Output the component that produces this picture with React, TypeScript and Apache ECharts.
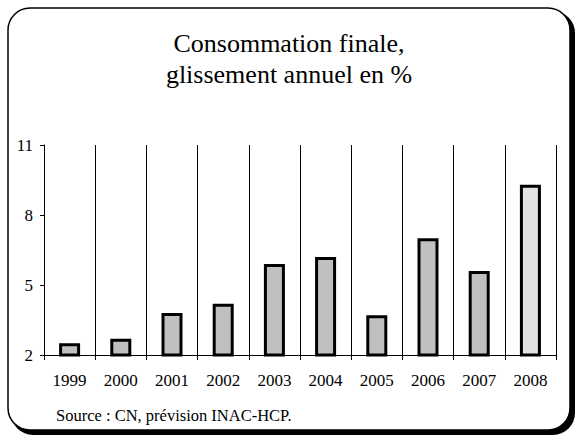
import React, { useEffect, useRef } from "react";
import * as echarts from "echarts";

const years = ["1999", "2000", "2001", "2002", "2003", "2004", "2005", "2006", "2007", "2008"];
const values = [2.5, 2.7, 3.8, 4.2, 5.9, 6.2, 3.7, 7.0, 5.6, 9.3];
const forecastYears = ["2008"];
const titleLines = ["Consommation finale,", "glissement annuel en %"];
const sourceText = "Source : CN, prévision INAC-HCP.";

const FONT = "Liberation Serif";

export default function App() {
  const ref = useRef<HTMLDivElement>(null);
  useEffect(() => {
    if (!ref.current) return;
    const chart = echarts.init(ref.current, null, { renderer: "svg" });
    chart.setOption({
      animation: false,
      backgroundColor: "#ffffff",
      graphic: [
        {
          type: "rect",
          z: -10,
          shape: { x: 11, y: 11, width: 564, height: 424, r: 22 },
          style: { fill: "#000" },
          silent: true,
        },
        {
          type: "rect",
          z: -9,
          shape: { x: 8, y: 8, width: 562, height: 422, r: 22 },
          style: { fill: "#fff", stroke: "#000", lineWidth: 1.5 },
          silent: true,
        },
        ...titleLines.map((t, i) => ({
          type: "text",
          x: 289,
          y: 43 + i * 31,
          style: {
            text: t,
            fontFamily: FONT,
            fontSize: 26,
            fill: "#000",
            align: "center",
            verticalAlign: "middle",
          },
        })),
        {
          type: "text",
          x: 56,
          y: 415,
          style: {
            text: sourceText,
            fontFamily: FONT,
            fontSize: 16.5,
            fill: "#000",
            verticalAlign: "middle",
          },
        },
      ],
      grid: { left: 44, right: 22, top: 145, bottom: 81 },
      xAxis: {
        type: "category",
        data: years,
        boundaryGap: true,
        axisLine: { show: true, lineStyle: { color: "#000", width: 1 } },
        axisTick: { show: true, interval: 0, length: 5, lineStyle: { color: "#000" } },
        axisLabel: { interval: 0, margin: 17, fontFamily: FONT, fontSize: 17, color: "#000" },
        splitLine: { show: true, interval: 0, lineStyle: { color: "#000", width: 1 } },
      },
      yAxis: {
        type: "value",
        min: 2,
        max: 11,
        interval: 3,
        axisLine: { show: true, lineStyle: { color: "#000", width: 1 } },
        axisTick: { show: true, length: 4, lineStyle: { color: "#000" } },
        axisLabel: { margin: 11, fontFamily: FONT, fontSize: 17, color: "#000" },
        splitLine: { show: false },
      },
      series: [
        {
          type: "bar",
          barWidth: 21,
          data: values.map((v, i) => ({
            value: v,
            itemStyle: {
              color: forecastYears.includes(years[i]) ? "#e2e2e2" : "#c0c0c0",
              borderColor: "#000",
              borderWidth: 3,
            },
          })),
        },
      ],
    });
    return () => chart.dispose();
  }, []);
  return (
    <div
      ref={ref}
      style={{ position: "fixed", left: 0, top: 0, width: 578, height: 436 }}
    />
  );
}
